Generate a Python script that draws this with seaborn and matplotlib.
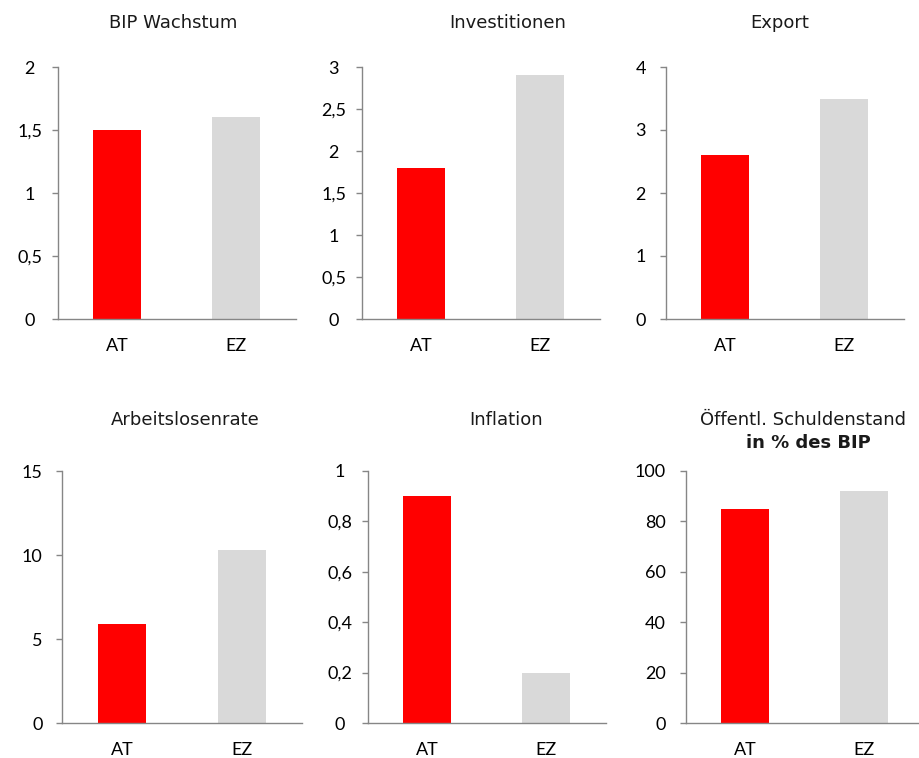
import matplotlib
matplotlib.use("Agg")
import matplotlib.pyplot as plt
import seaborn as sns
import pandas as pd
from matplotlib.ticker import FuncFormatter, MultipleLocator, FixedLocator

# ---- data ----
regions = ["AT", "EZ"]
titles = ["BIP Wachstum", "Investitionen", "Export",
          "Arbeitslosenrate", "Inflation", "Öffentl. Schuldenstand"]
subtitle_bold = "in % des BIP"
bip_growth = [1.5, 1.6]
investment = [1.8, 2.9]
exports = [2.6, 3.5]
unemployment = [5.9, 10.3]
inflation = [0.9, 0.2]
public_debt = [85, 92]
y_max = [2, 3, 4, 15, 1, 100]
y_step = [0.5, 0.5, 1, 5, 0.2, 20]
bar_colors = ["#FF0000", "#D9D9D9"]

series = [bip_growth, investment, exports, unemployment, inflation, public_debt]

# ---- style ----
sns.set_style("white")
plt.rcParams["font.family"] = ["Lato", "DejaVu Sans"]

W, H = 919, 758
fig = plt.figure(figsize=(W / 100, H / 100), dpi=100)

# axes boxes in pixels (left, right, top, bottom)
boxes = [(57.5, 295.5, 67, 319), (361.5, 599.5, 67, 319), (665.5, 903.5, 67, 319),
         (62, 302, 471, 723), (367.5, 605.5, 471, 723), (685.5, 923.5, 471, 723)]
decimal_panels = [0, 1, 4]
title_pos = [(173.5, 23), (507.5, 23), (780, 23), (185, 420), (506.5, 420), (802.5, 420)]

spine_color = "#868686"

def fmt(v, pos):
    return f"{v:g}".replace(".", ",")

for i, vals in enumerate(series):
    l, r, t, b = boxes[i]
    ax = fig.add_axes([l / W, 1 - b / H, (r - l) / W, (b - t) / H])
    df = pd.DataFrame({"region": regions, "value": vals})
    sns.barplot(data=df, x="region", y="value", hue="region", palette=bar_colors,
                width=0.4, saturation=1, legend=False, ax=ax, linewidth=0,
                edgecolor="none")
    ax.set_xlim(-0.5, 1.5)
    ax.set_ylim(0, y_max[i])
    ax.yaxis.set_major_locator(MultipleLocator(y_step[i]))
    ax.yaxis.set_major_formatter(FuncFormatter(fmt))
    ax.set_xlabel("")
    ax.set_ylabel("")
    for s in ["top", "right"]:
        ax.spines[s].set_visible(False)
    for s in ["left", "bottom"]:
        ax.spines[s].set_color(spine_color)
        ax.spines[s].set_linewidth(1.0)
    ax.xaxis.set_minor_locator(FixedLocator([-0.5, 0.5, 1.5]))
    ax.tick_params(axis="x", which="major", length=0, pad=14, labelsize=13, labelcolor="black")
    ax.tick_params(axis="x", which="minor", length=4.5, width=1.0, color=spine_color, direction="out")
    if i in decimal_panels:
        ax.tick_params(axis="y", which="major", length=4.5, width=1.0, color=spine_color,
                       direction="out", pad=15.5, labelsize=13, labelcolor="black", left=True)
        for lab in ax.get_yticklabels():
            lab.set_horizontalalignment("center")
    else:
        ax.tick_params(axis="y", which="major", length=4.5, width=1.0, color=spine_color,
                       direction="out", pad=9.5, labelsize=13, labelcolor="black", left=True)
    tx, ty = title_pos[i]
    fig.text(tx / W, 1 - ty / H, titles[i], ha="center", va="center",
             fontsize=13, family="DejaVu Sans", color="#1a1a1a")

fig.text(808 / W, 1 - 443 / H, subtitle_bold, ha="center", va="center",
         fontsize=13, family="DejaVu Sans", fontweight="bold", color="#1a1a1a")

fig.savefig("out.png", dpi=100)
